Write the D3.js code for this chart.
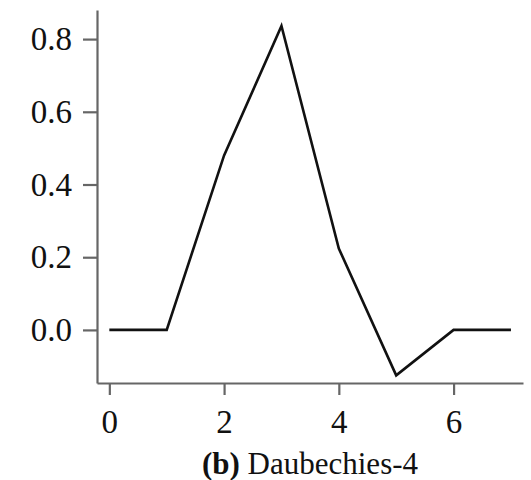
<!DOCTYPE html>
<html>
<head>
<meta charset="utf-8">
<script src="https://d3js.org/d3.v7.min.js"></script>
<style>
  body { margin: 0; background: #fff; }
  text { font-family: "Liberation Serif", "DejaVu Serif", serif; }
</style>
</head>
<body>
<svg width="531" height="480"></svg>
<script>
// samples of the Daubechies-4 scaling function coefficients
var xs = [0, 1, 2, 3, 4, 5, 6, 7];
var ys = [0, 0, 0.48, 0.836, 0.224, -0.125, 0, 0];
var xTicks = [0, 2, 4, 6];
var yTicks = [0.0, 0.2, 0.4, 0.6, 0.8];

var svg = d3.select("svg");

var x = d3.scaleLinear().domain([-0.215, 7.21]).range([97, 523]);
var y = d3.scaleLinear().domain([-0.146, 0.88]).range([383, 10]);

var axisColor = "#666";

// y axis
var gy = svg.append("g").attr("transform", "translate(97,0)")
    .call(d3.axisLeft(y).tickValues(yTicks).tickFormat(d3.format(".1f"))
        .tickSize(14).tickPadding(11).tickSizeOuter(0));
// x axis
var gx = svg.append("g").attr("transform", "translate(0,383)")
    .call(d3.axisBottom(x).tickValues(xTicks).tickFormat(d3.format("d"))
        .tickSize(12).tickPadding(15).tickSizeOuter(0));

[gx, gy].forEach(function(g) {
  g.select(".domain").attr("stroke", axisColor).attr("stroke-width", 2.2);
  g.selectAll(".tick line").attr("stroke", axisColor).attr("stroke-width", 2.2);
  g.selectAll(".tick text").attr("fill", "#111").attr("font-size", 33)
    .attr("font-family", "Liberation Serif");
});

// line
var line = d3.line().x(function(d, i) { return x(xs[i]); }).y(function(d) { return y(d); });
svg.append("path").datum(ys)
  .attr("d", line)
  .attr("fill", "none")
  .attr("stroke", "#111")
  .attr("stroke-width", 2.6)
  .attr("stroke-linejoin", "miter");

// caption
var cap = svg.append("text")
  .attr("x", 310).attr("y", 474)
  .attr("text-anchor", "middle")
  .attr("font-size", 31)
  .attr("fill", "#111");
cap.append("tspan").attr("font-weight", "bold").text("(b)");
cap.append("tspan").text(" Daubechies-4");
</script>
</body>
</html>
